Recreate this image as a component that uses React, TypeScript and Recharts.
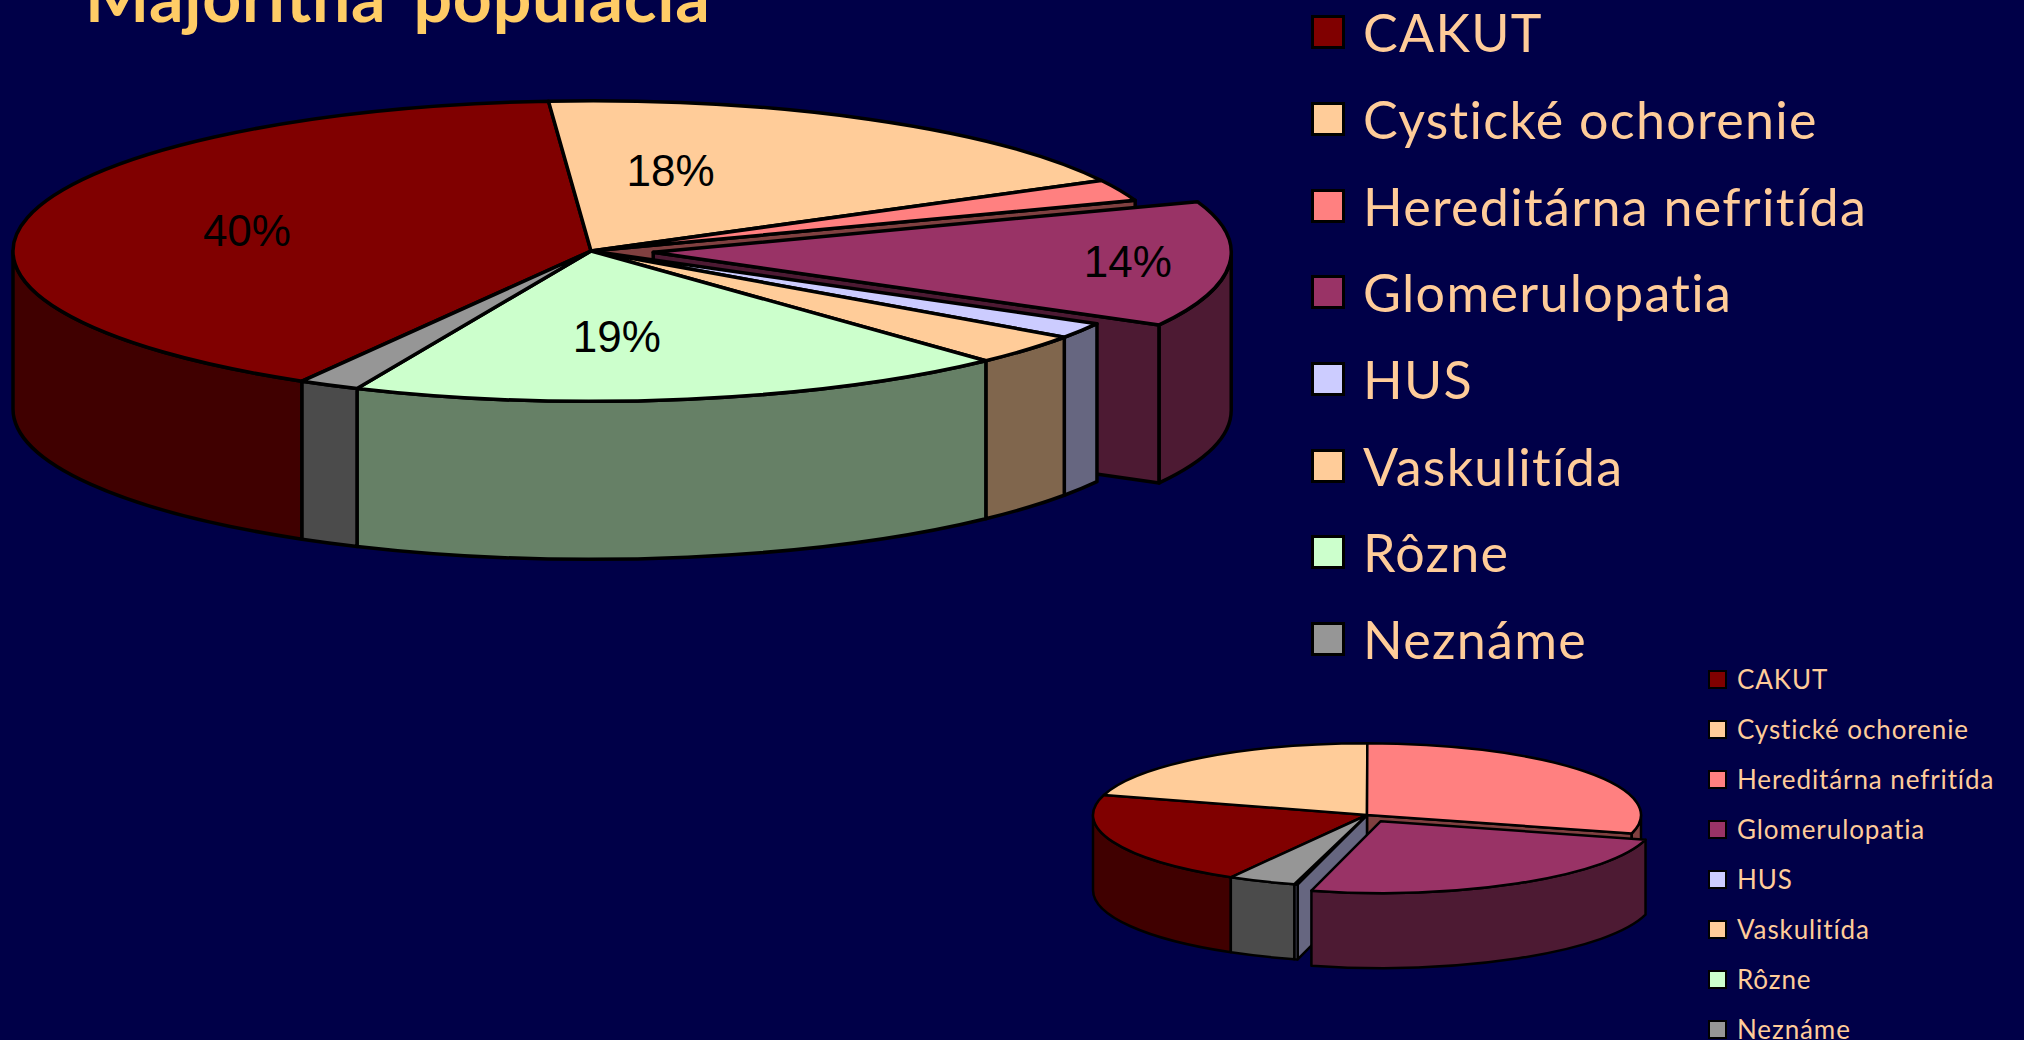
import React from 'react'
import {PieChart, Pie, Legend} from 'recharts';

const categories = ['CAKUT', 'Cystické ochorenie', 'Hereditárna nefritída', 'Glomerulopatia', 'HUS', 'Vaskulitída', 'Rôzne', 'Neznáme'];
const majorityValues = [40.49, 18.4, 2.3, 13.5, 1.7, 3.3, 18.6, 1.7];
const minorityValues = [21.2, 20.5, 29.1, 24.9, 0.2, 0, 0, 4.0];
const topColors = ['#800000', '#ffcc99', '#ff8080', '#993366', '#ccccff', '#ffcc99', '#ccffcc', '#969696'];
const wallColors = ['#400000', '#80664d', '#804040', '#4d1a33', '#666680', '#80664d', '#668066', '#4b4b4b'];

const bigOrder = [0, 0, 0, 1, 2, 2, 2, 2];
const smallOrder = [0, 0, 0, 1, 0, 0, 0, 0];
const bigLabelNudge: any = {0: [-6, 0], 1: [-88, -2], 3: [129, 2], 6: [-32, -3]};

const BG = '#000048';
const LEGEND_FONT = '"Comic Sans MS", Lato, sans-serif';

const rad = (d: number) => d * Math.PI / 180;

// slice in "degrees clockwise from the top", the way the picture is read
const sliceGeometry = (p: any, cfg: any) => {
  const from = ((90 - p.startAngle) % 360 + 360) % 360;
  const sweep = Math.abs(p.endAngle - p.startAngle);
  const rx = p.outerRadius;
  const ry = rx * cfg.squash;
  const idx = categories.indexOf(p.name ?? p.payload?.name);
  const mid = from + sweep / 2;
  const e = cfg.exploded === idx ? cfg.explode : 0;
  const cx = p.cx + e * rx * Math.sin(rad(mid));
  const cy = p.cy - e * ry * Math.cos(rad(mid));
  const at = (th: number) => [cx + rx * Math.sin(rad(th)), cy - ry * Math.cos(rad(th))];
  return {from, sweep, rx, ry, idx, mid, cx, cy, at};
};

const makeShape = (cfg: any, rank: number, part: string) => (p: any) => {
  const g = sliceGeometry(p, cfg);
  if (g.idx < 0 || cfg.order[g.idx] !== rank || g.sweep < 0.01 || part === 'none') return <g />;
  const to = g.from + g.sweep;
  const common = {stroke: '#000', strokeWidth: cfg.strokeWidth, strokeLinejoin: 'round' as const};
  const top = topColors[g.idx];
  const wall = wallColors[g.idx];

  if (part === 'top') {
    const [x1, y1] = g.at(g.from);
    const [x2, y2] = g.at(to);
    const large = g.sweep > 180 ? 1 : 0;
    return <path d={`M${g.cx},${g.cy}L${x1},${y1}A${g.rx},${g.ry} 0 ${large} 1 ${x2},${y2}Z`} fill={top} {...common} />;
  }
  if (part === 'wall') {
    const arcs = [[90, 270], [450, 630]].map(([a, b]) => [Math.max(a, g.from), Math.min(b, to)]).filter(([a, b]) => b > a);
    return <g>{arcs.map(([a, b], i) => {
      const [x1, y1] = g.at(a);
      const [x2, y2] = g.at(b);
      const d = cfg.depth;
      return <path key={i} d={`M${x1},${y1}A${g.rx},${g.ry} 0 0 1 ${x2},${y2}L${x2},${y2 + d}A${g.rx},${g.ry} 0 0 0 ${x1},${y1 + d}Z`} fill={wall} {...common} />;
    })}</g>;
  }
  // the flat cut faces, seen only where the pulled out slice leaves a gap
  const faces: number[] = [];
  const self = g.idx === cfg.exploded;
  if (Math.sin(rad(g.from)) < 0 && (self || g.idx - 1 === cfg.exploded)) faces.push(g.from);
  if (Math.sin(rad(to)) > 0 && (self || g.idx + 1 === cfg.exploded)) faces.push(to);
  return <g>{faces.map((th, i) => {
    const [x, y] = g.at(th);
    const d = cfg.depth;
    return <path key={i} d={`M${g.cx},${g.cy}L${x},${y}L${x},${y + d}L${g.cx},${g.cy + d}Z`} fill={wall} {...common} />;
  })}</g>;
};

const percentLabel = (cfg: any) => (p: any) => {
  const g = sliceGeometry(p, cfg);
  const nudge = bigLabelNudge[g.idx];
  if (!nudge) return <g />;
  const x = g.cx + 0.6 * g.rx * Math.sin(rad(g.mid)) + nudge[0];
  const y = g.cy - 0.6 * g.ry * Math.cos(rad(g.mid)) + nudge[1];
  return <text x={x} y={y} textAnchor="middle" dominantBaseline="central" fontFamily='"Liberation Sans", Arial, sans-serif' fontSize={44} fill="#000">{`${Math.round(p.value)}%`}</text>;
};

const LegendBox = ({size, border, rowH, gap, fontSize, letterSpacing}: any) => (
  <div style={{fontFamily: LEGEND_FONT}}>
    {categories.map((name, i) => (
      <div key={name} style={{height: rowH, display: 'flex', alignItems: 'center', whiteSpace: 'nowrap'}}>
        <span style={{display: 'inline-block', boxSizing: 'border-box', width: size, height: size, background: topColors[i], border: `${border}px solid #000`, marginRight: gap}} />
        <span style={{color: '#ffcc99', fontSize, letterSpacing, lineHeight: 1, fontVariantLigatures: 'none'}}>{name}</span>
      </div>
    ))}
  </div>
);

const ThreeDPie = ({values, cfg, legend}: any) => {
  const data = categories.map((name, i) => ({name, value: values[i], fill: topColors[i]}));
  const ranks = Array.from(new Set<number>(cfg.order)).sort();
  const layers: any[] = [];
  ranks.forEach((r) => ['face', 'wall', 'top'].forEach((part) => layers.push([r, part])));
  return (
    <PieChart width={2024} height={1040} margin={{top: 0, right: 0, bottom: 0, left: 0}} style={{position: 'absolute', left: 0, top: 0}}>
      {layers.map(([r, part]) => (
        <Pie key={`${r}-${part}`} data={data} dataKey="value" nameKey="name" cx={cfg.cx} cy={cfg.cy} outerRadius={cfg.rx}
          startAngle={90 - cfg.start} endAngle={90 - cfg.start - 360} shape={makeShape(cfg, r, part)}
          label={false} labelLine={false} isAnimationActive={false} rootTabIndex={-1} />
      ))}
      {cfg.labels && (
        <Pie key="labels" data={data} dataKey="value" nameKey="name" cx={cfg.cx} cy={cfg.cy} outerRadius={cfg.rx}
          startAngle={90 - cfg.start} endAngle={90 - cfg.start - 360} shape={makeShape(cfg, -1, 'none')}
          label={percentLabel(cfg)} labelLine={false} isAnimationActive={false} rootTabIndex={-1} />
      )}
      <Legend content={() => <LegendBox {...legend} />} wrapperStyle={{left: legend.left, top: legend.top, width: 700}} />
    </PieChart>
  )
};

const bigCfg = {cx: 591, cy: 251, rx: 578, squash: 0.26, depth: 158, start: 210, explode: 0.108, exploded: 3, order: bigOrder, strokeWidth: 3.5, labels: true};
const smallCfg = {cx: 1367, cy: 815, rx: 274, squash: 0.262, depth: 75, start: 209.8, explode: 0.1, exploded: 3, order: smallOrder, strokeWidth: 2.5, labels: false};

export default function App() {
  return (
    <div style={{position: 'fixed', left: 0, top: 0, width: 2024, height: 1040, background: BG, overflow: 'hidden'}}>
      <div style={{position: 'absolute', left: 85, top: -44, color: '#ffcc66', fontFamily: LEGEND_FONT, fontWeight: 700, fontSize: 68, letterSpacing: 0.7, wordSpacing: 10, lineHeight: '80px', whiteSpace: 'pre', fontVariantLigatures: 'none'}}>Majoritná populácia</div>
      <ThreeDPie values={majorityValues} cfg={bigCfg} legend={{left: 1311, top: -11, size: 34, border: 3, rowH: 86.7, gap: 18, fontSize: 52, letterSpacing: 1.3}} />
      <ThreeDPie values={minorityValues} cfg={smallCfg} legend={{left: 1708, top: 654, size: 19, border: 2, rowH: 50, gap: 10, fontSize: 26, letterSpacing: 0.9}} />
    </div>
  )
}
